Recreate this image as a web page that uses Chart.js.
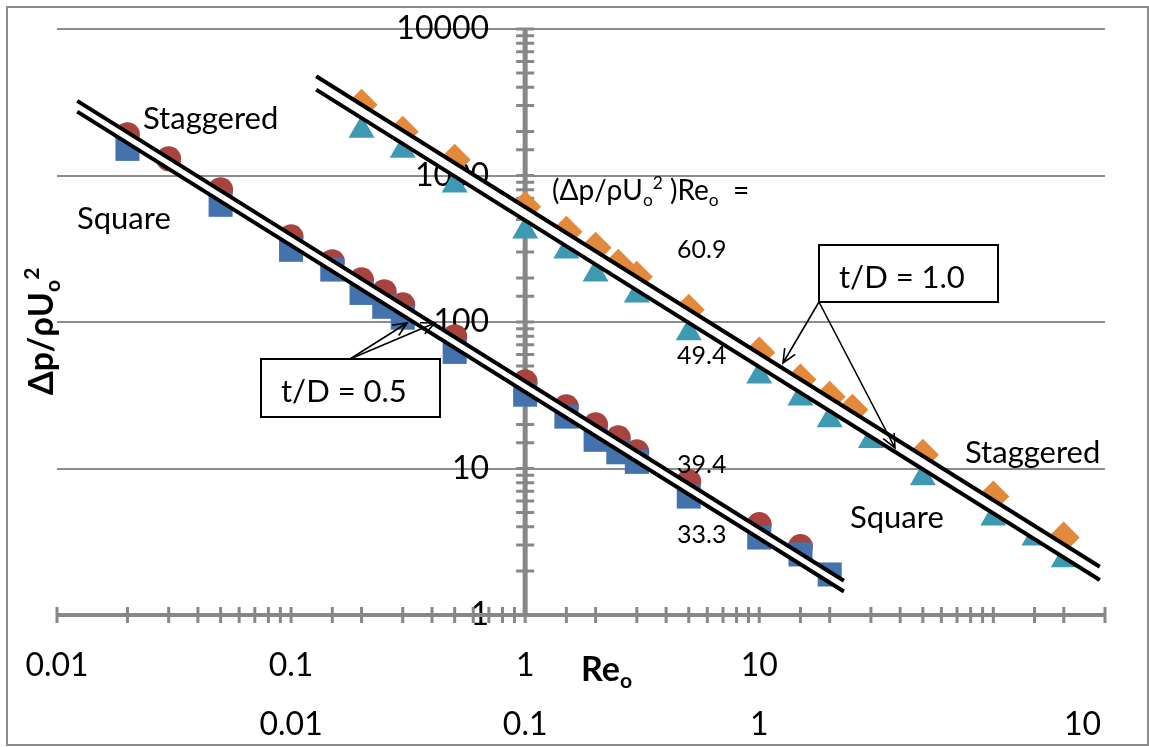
<!DOCTYPE html>
<html>
<head>
<meta charset="utf-8">
<script src="https://cdn.jsdelivr.net/npm/chart.js@4.4.1/dist/chart.umd.min.js"></script>
<style>
  html, body { margin: 0; padding: 0; background: #fff; }
  canvas { display: block; }
</style>
</head>
<body>
<canvas id="chart" width="1149" height="747"></canvas>
<script>
// t/D = 0.5, plotted on the lower Re_o scale
const reSquare05 = [0.02, 0.05, 0.1, 0.15, 0.2, 0.25, 0.3, 0.5, 1, 1.5, 2, 2.5, 3, 5, 10, 15, 20];
const dpSquare05 = [1520, 631, 311, 228, 158, 127, 107, 62.5, 31.9, 22.6, 15.7, 12.9, 11.1, 6.43, 3.38, 2.59, 1.89];
const reStag05 = [0.02, 0.03, 0.05, 0.1, 0.15, 0.2, 0.25, 0.3, 0.5, 1, 1.5, 2, 2.5, 3, 5, 10, 15];
const dpStag05 = [1900, 1300, 800, 382, 258, 194, 161, 131, 79.4, 39.1, 26.4, 19.9, 16.2, 13.0, 8.14, 4.14, 2.93];

// t/D = 1.0, plotted on the second Re_o scale
const reSquare10 = [0.02, 0.03, 0.05, 0.1, 0.15, 0.2, 0.3, 0.5, 1, 1.5, 2, 3, 5, 10, 15, 20];
const dpSquare10 = [2040, 1490, 860, 418, 305, 213, 153, 84.4, 42.8, 30.3, 21.5, 15.5, 8.65, 4.6, 3.36, 2.38];
const reStag10 = [0.02, 0.03, 0.05, 0.1, 0.15, 0.2, 0.25, 0.3, 0.5, 1, 1.5, 2, 2.5, 5, 10, 20];
const dpStag10 = [3040, 1990, 1280, 612, 413, 321, 246, 204, 121, 61.8, 40.5, 30.9, 25.2, 12.4, 6.43, 3.38];

// (dp/rho U^2) Re = const lines and the Re range they are drawn over
const kStag05 = 39.4, kSquare05 = 33.3, kStag10 = 60.9, kSquare10 = 49.4;
const fitRe05 = [0.0122, 23];
const fitRe10 = [0.0128, 28.5];

// axis labels
const xTickLabels = [0.01, 0.1, 1, 10];
const x2TickLabels = [0.01, 0.1, 1, 10];
const yTickLabels = [1, 10, 100, 1000, 10000];

const FONT = 'Lato, "Open Sans", "DejaVu Sans", sans-serif';
const AXIS_GREY = '#878787';

const pts = (xs, ys) => xs.map((x, i) => ({ x: x, y: ys[i] }));
const fitLine = (res, k) => res.map(r => ({ x: r, y: k / r }));

function markers(label, xs, ys, axis, style, radius, color) {
  return {
    label: label, data: pts(xs, ys), xAxisID: axis, showLine: false, order: 1,
    pointStyle: style, pointRadius: radius, pointBackgroundColor: color,
    pointBorderColor: color, pointBorderWidth: 0
  };
}
function fit(label, res, k, axis, fill) {
  return {
    label: label, data: fitLine(res, k), xAxisID: axis, order: 0,
    borderColor: '#000', borderWidth: 4, pointRadius: 0,
    fill: fill, backgroundColor: '#fff', tension: 0
  };
}

// text made of plain / subscript / superscript pieces, baseline at y
function runs(ctx, parts, x, y, size, bold) {
  let cx = x;
  parts.forEach(p => {
    const s = (p.sub || p.sup) ? size * 0.62 : size;
    ctx.font = (bold ? 'bold ' : '') + s + 'px ' + FONT;
    const dy = p.sub ? size * 0.2 : p.sup ? -size * 0.4 : 0;
    ctx.fillText(p.t, cx, y + dy);
    cx += ctx.measureText(p.t).width;
  });
}

function arrow(ctx, x0, y0, x1, y1) {
  const a = Math.atan2(y1 - y0, x1 - x0);
  const len = 15, spread = 0.42;
  ctx.beginPath();
  ctx.moveTo(x0, y0); ctx.lineTo(x1, y1);
  ctx.moveTo(x1 - len * Math.cos(a - spread), y1 - len * Math.sin(a - spread));
  ctx.lineTo(x1, y1);
  ctx.lineTo(x1 - len * Math.cos(a + spread), y1 - len * Math.sin(a + spread));
  ctx.stroke();
}

function textBox(ctx, x, y, w, h, label, baseline) {
  ctx.fillStyle = '#fff';
  ctx.fillRect(x, y, w, h);
  ctx.strokeStyle = '#000';
  ctx.lineWidth = 2;
  ctx.strokeRect(x, y, w, h);
  ctx.fillStyle = '#000';
  ctx.font = '31px ' + FONT;
  ctx.textAlign = 'left';
  ctx.textBaseline = 'alphabetic';
  ctx.fillText(label, x + 20, baseline);
}

// axes cross each other at Re = 1 and dp = 1, with ticks on both sides;
// the dp labels sit to the left of the crossing axis
const crossAxes = {
  id: 'crossAxes',
  beforeDatasetsDraw(chart) {
    const ctx = chart.ctx, sx = chart.scales.x, sy = chart.scales.y;
    const ax = sx.getPixelForValue(1), ay = sy.getPixelForValue(1);
    ctx.save();
    ctx.fillStyle = '#000';
    ctx.font = '32px ' + FONT;
    ctx.textAlign = 'right';
    ctx.textBaseline = 'middle';
    yTickLabels.forEach(v => ctx.fillText(String(v), ax - 36, sy.getPixelForValue(v)));

    ctx.strokeStyle = AXIS_GREY;
    ctx.lineWidth = 5;
    ctx.beginPath(); ctx.moveTo(ax, sy.top); ctx.lineTo(ax, sy.bottom); ctx.stroke();
    ctx.lineWidth = 4;
    ctx.beginPath(); ctx.moveTo(sx.left, ay); ctx.lineTo(sx.right, ay); ctx.stroke();
    ctx.lineWidth = 3;
    ctx.beginPath();
    sy.ticks.forEach(t => {
      const p = sy.getPixelForValue(t.value);
      ctx.moveTo(ax - 9, p); ctx.lineTo(ax + 9, p);
    });
    sx.ticks.forEach(t => {
      const p = sx.getPixelForValue(t.value);
      ctx.moveTo(p, ay - 8); ctx.lineTo(p, ay + 8);
    });
    ctx.stroke();
    ctx.restore();
  }
};

const notes = {
  id: 'notes',
  afterDraw(chart) {
    const ctx = chart.ctx, x2 = chart.scales.x2;
    ctx.save();
    ctx.fillStyle = '#000';
    ctx.textBaseline = 'alphabetic';

    // second Re_o scale row; its top value sits at the end of the axis
    ctx.font = '32px ' + FONT;
    x2TickLabels.forEach((v, i) => {
      const last = i === x2TickLabels.length - 1;
      ctx.textAlign = last ? 'right' : 'center';
      ctx.fillText(String(v), last ? x2.right - 4 : x2.getPixelForValue(v), 735);
    });

    // axis titles
    ctx.textAlign = 'left';
    runs(ctx, [{ t: 'Re' }, { t: 'o', sub: true }], 581, 681, 34, true);
    ctx.save();
    ctx.translate(53, 395);
    ctx.rotate(-Math.PI / 2);
    runs(ctx, [{ t: 'Δp/ρU' }, { t: 'o', sub: true }, { t: '2', sup: true }], 0, 0, 34, true);
    ctx.restore();

    // arrangement labels
    ctx.font = '31px ' + FONT;
    ctx.fillText('Staggered', 143, 129);
    ctx.fillText('Square', 77, 229);
    ctx.fillText('Staggered', 965, 463);
    ctx.fillText('Square', 850, 528);

    // constants of the fitted lines
    runs(ctx, [{ t: '(Δp/ρU' }, { t: 'o', sub: true }, { t: '2', sup: true }, { t: ' )Re' }, { t: 'o', sub: true }, { t: '  =' }], 552, 200, 28, false);
    ctx.font = '25px ' + FONT;
    ctx.fillText(String(kStag10), 677, 258);
    ctx.fillText(String(kSquare10), 677, 364);
    ctx.fillText(String(kStag05), 677, 473);
    ctx.fillText(String(kSquare05), 677, 543);

    // t/D call-outs
    ctx.strokeStyle = '#000';
    ctx.lineWidth = 1.6;
    arrow(ctx, 350, 359, 407, 323);
    arrow(ctx, 350, 359, 435, 323);
    arrow(ctx, 819, 302, 783, 363);
    arrow(ctx, 819, 302, 895, 448);
    textBox(ctx, 261, 359, 179, 58, 't/D = 0.5', 402);
    textBox(ctx, 819, 245, 179, 57, 't/D = 1.0', 288);

    // chart frame
    ctx.strokeStyle = '#8c8c8c';
    ctx.lineWidth = 2;
    ctx.strokeRect(7, 7, 1141, 738);
    ctx.restore();
  }
};

const isDecade = v => Math.abs(Math.log10(v) - Math.round(Math.log10(v))) < 1e-9;

new Chart(document.getElementById('chart'), {
  type: 'line',
  data: {
    datasets: [
      fit('Staggered t/D=0.5', fitRe05, kStag05, 'x', false),
      fit('Square t/D=0.5', fitRe05, kSquare05, 'x', '-1'),
      fit('Staggered t/D=1.0', fitRe10, kStag10, 'x2', false),
      fit('Square t/D=1.0', fitRe10, kSquare10, 'x2', '-1'),
      markers('Square, t/D = 0.5', reSquare05, dpSquare05, 'x', 'rect', 17, '#4472AC'),
      markers('Staggered, t/D = 0.5', reStag05, dpStag05, 'x', 'circle', 12.5, '#A8433F'),
      markers('Square, t/D = 1.0', reSquare10, dpSquare10, 'x2', 'triangle', 15, '#3E9AB2'),
      markers('Staggered, t/D = 1.0', reStag10, dpStag10, 'x2', 'rectRot', 16, '#E2893B')
    ]
  },
  options: {
    responsive: false,
    animation: false,
    events: [],
    layout: { autoPadding: false, padding: { left: 57, right: 44, top: 29, bottom: 132 } },
    plugins: { legend: { display: false }, tooltip: { enabled: false } },
    scales: {
      x: {
        type: 'logarithmic', min: 0.01, max: 300, position: { y: 1 },
        border: { display: false },
        grid: { display: false },
        ticks: {
          autoSkip: false, maxRotation: 0, padding: 23, color: '#000',
          font: { family: FONT, size: 32 },
          callback: v => xTickLabels.some(t => Math.abs(t - v) < t * 1e-6) ? String(v) : ''
        }
      },
      x2: {
        type: 'logarithmic', min: 0.001, max: 30, display: false
      },
      y: {
        type: 'logarithmic', min: 1, max: 10000, position: { x: 1 },
        border: { display: false },
        grid: {
          drawTicks: false, lineWidth: 2,
          color: c => (c.tick && isDecade(c.tick.value)) ? '#8c8c8c' : 'rgba(0,0,0,0)'
        },
        ticks: { display: false, autoSkip: false }
      }
    }
  },
  plugins: [crossAxes, notes]
});
</script>
</body>
</html>
